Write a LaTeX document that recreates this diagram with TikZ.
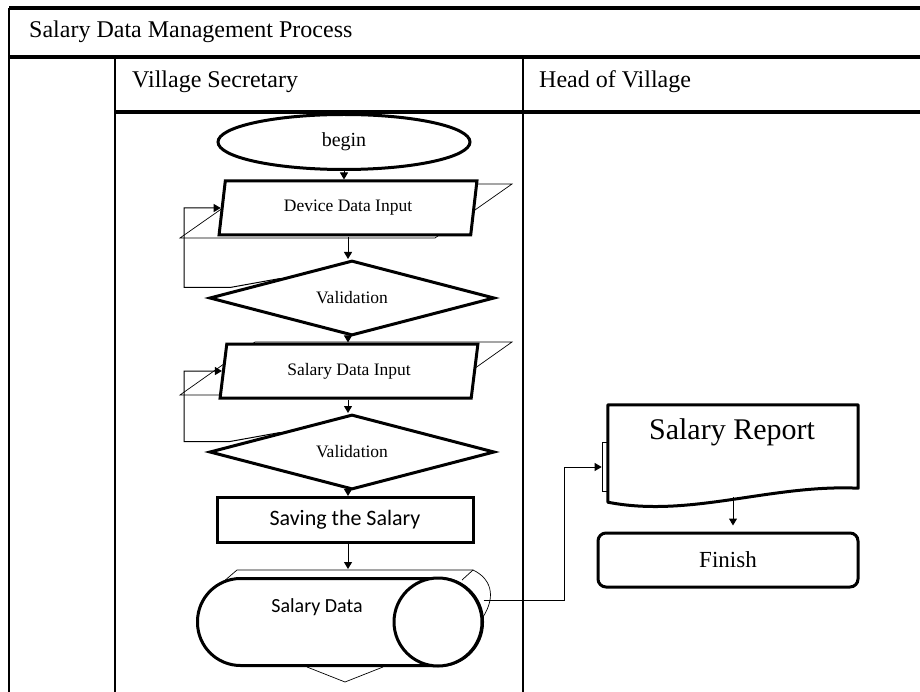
\documentclass[tikz,border=0pt]{standalone}
\usepackage{fontspec}
\setmainfont{Liberation Serif}
\newfontfamily\calibrifont{Carlito}
\usetikzlibrary{shapes.geometric,arrows.meta}

\tikzset{
	laneline/.style={line width=2pt},
	lanehead/.style={line width=3.5pt},
	lanetitle/.style={anchor=west,inner sep=0pt,font=\fontsize{24}{26}\selectfont},
	flow/.style={line width=1pt,-{Triangle[length=7pt,width=8pt]}},
	ghost/.style={line width=0.7pt},
	startstop/.style={ellipse,draw,line width=3pt,fill=white,minimum width=252pt,minimum height=55pt,inner sep=0pt,font=\fontsize{20}{22}\selectfont},
	inputbox/.style={trapezium,trapezium left angle=78,trapezium right angle=102,trapezium stretches=true,draw,line width=3pt,fill=white,minimum width=258pt,minimum height=54pt,inner sep=0pt,font=\fontsize{17.5}{19}\selectfont},
	decision/.style={diamond,draw,line width=3pt,fill=white,aspect=3.8,minimum width=285pt,minimum height=75pt,inner sep=0pt,font=\fontsize{17.5}{19}\selectfont},
	process/.style={rectangle,draw,line width=3pt,fill=white,minimum width=256pt,minimum height=45pt,inner sep=0pt,font=\calibrifont\fontsize{22}{24}\selectfont},
	storedata/.style={rectangle,rounded corners=43pt,draw,line width=3pt,fill=white,minimum width=285pt,minimum height=87pt,inner sep=0pt},
	storeend/.style={circle,draw,line width=3pt,fill=white,minimum size=88pt,inner sep=0pt},
	doc/.style={rectangle,minimum width=250pt,minimum height=98pt,inner sep=0pt},
	docedge/.style={line width=3pt,line join=round},
	doctab/.style={rectangle,draw,line width=0.7pt,minimum width=6pt,minimum height=49pt,inner sep=0pt},
	terminal/.style={rectangle,rounded corners=8pt,draw,line width=3pt,minimum width=260pt,minimum height=54pt,inner sep=0pt,font=\fontsize{23}{25}\selectfont},
}

\begin{document}
\begin{tikzpicture}[x=1pt,y=-1pt]
	\useasboundingbox (0,0) rectangle (920,692);

	\draw[lanehead] (9,8) -- (920,8);
	\draw[lanehead] (9,57) -- (920,57);
	\draw[lanehead] (115,112) -- (920,112);
	\draw[laneline] (9,8) -- (9,692);
	\draw[laneline] (115,57) -- (115,692);
	\draw[laneline] (523,57) -- (523,692);

	\node[lanetitle] (process) at (29,32) {Salary Data Management Process};
	\node[lanetitle] (secretary) at (132,82) {Village Secretary};
	\node[lanetitle] (head) at (539,82) {Head of Village};

	\draw[ghost] (180,238) -- (257,184) -- (512,184) -- (435,238) -- cycle;
	\draw[ghost] (180,395) -- (255,342) -- (512,342) -- (437,395) -- cycle;
	\draw[ghost] (223,582) -- (237,570) -- (473,570) .. controls (490,578) and (497,595) .. (483,617);
	\draw[ghost] (462,580) -- (473,570);
	\draw[ghost] (307,667) -- (345,682) -- (383,667);

	\node[startstop] (begin) at (344,142) {begin};
	\node[inputbox] (device) at (348,208) {Device Data Input};
	\node[decision] (valdevice) at (352,298) {Validation};
	\node[inputbox] (salaryin) at (349,371) {Salary Data Input};
	\node[decision] (valsalary) at (352,452) {Validation};
	\node[process] (saving) at (345,520) {Saving the Salary};
	\node[storedata] (salarydata) at (340,622) {};
	\node[storeend] (salaryend) at (438,622) {};
	\node[font=\calibrifont\fontsize{20}{22}\selectfont] (salarylabel) at (317,607) {Salary Data};

	\node[doc] (report) at (733,454) {};
	\draw[docedge,fill=white] (report.north west) -- (report.north east) -- ([yshift=15pt]report.south east) .. controls +(-88,-4) and +(82,16) .. ([yshift=1pt]report.south west) -- cycle;
	\node[font=\fontsize{30}{32}\selectfont] (reporttext) at (732,432) {Salary Report};
	\node[doctab] (reporttab) at (605,467) {};
	\node[terminal] (finish) at (728,560) {Finish};

	\draw[flow] (begin.south) -- (begin.south |- device.north);
	\draw[flow] (device.south) -- (device.south |- valdevice.north);
	\draw[flow] (valdevice.south -| device.south) -- (device.south |- salaryin.north);
	\draw[flow] (salaryin.south -| device.south) -- (device.south |- valsalary.north);
	\draw[flow] (valsalary.south -| device.south) -- (device.south |- saving.north);
	\draw[flow] (saving.south -| device.south) -- ([yshift=8pt]device.south |- salarydata.north);

	\draw[flow] (valdevice.north west) -- ++(-50,9) -- ++(-46,0) |- (device.west);
	\draw[flow] (valsalary.north west) -- ++(-50,9) -- ++(-46,0) |- (salaryin.west);

	\draw[flow] ([yshift=22pt]salaryend.east) -- ++(81,0) |- (reporttab.west);
	\draw[flow] ([yshift=6pt]report.south) -- ([yshift=6pt]report.south |- finish.north);
\end{tikzpicture}
\end{document}
